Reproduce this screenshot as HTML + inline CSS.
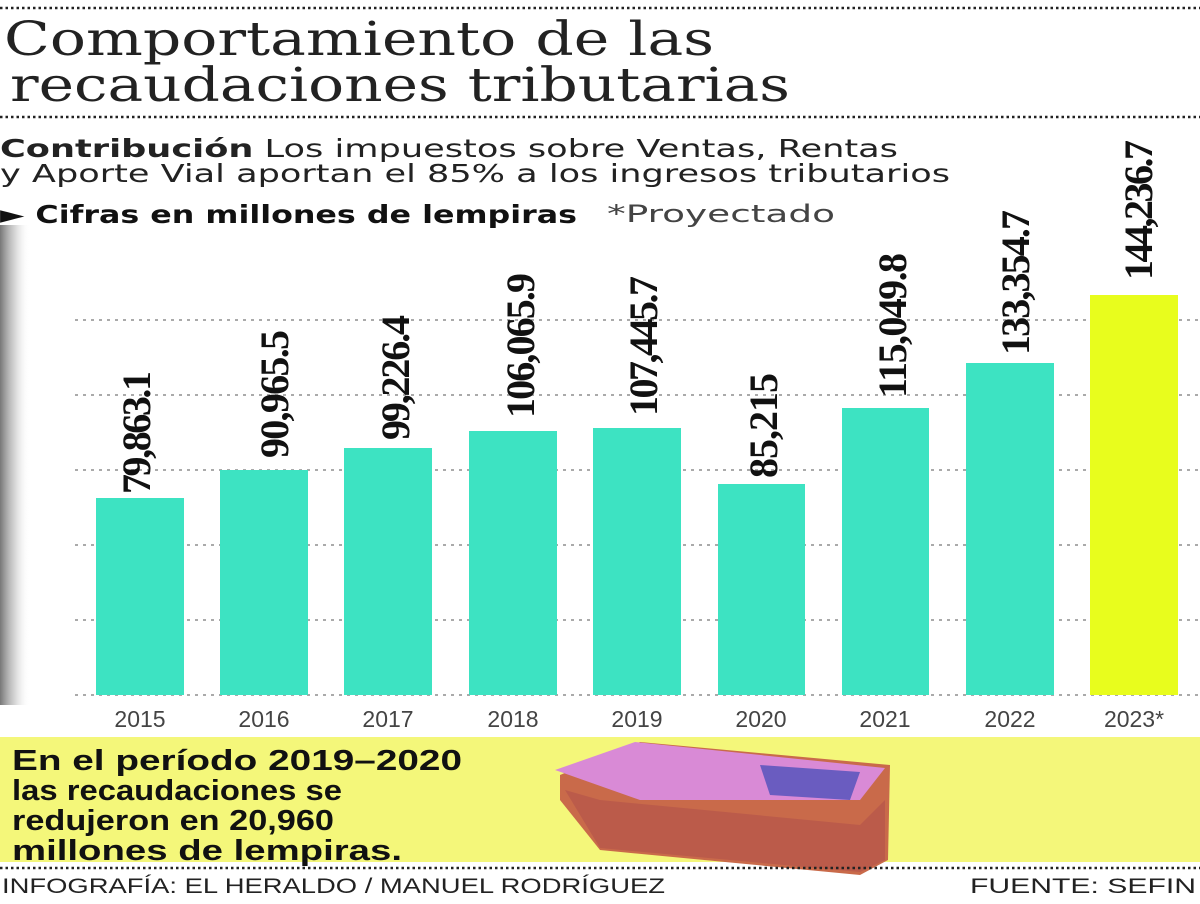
<!DOCTYPE html>
<html><head><meta charset="utf-8"><style>
body{margin:0;width:1200px;height:900px;overflow:hidden;background:#fff;font-family:"DejaVu Sans","Liberation Sans",sans-serif;}
</style></head><body>
<svg width="1200" height="900" viewBox="0 0 1200 900" xmlns="http://www.w3.org/2000/svg">
<defs>
<linearGradient id="sh" x1="0" x2="1" y1="0" y2="0">
<stop offset="0" stop-color="#777"/><stop offset="0.5" stop-color="#bbb" stop-opacity="0.6"/><stop offset="1" stop-color="#fff" stop-opacity="0"/>
</linearGradient>
</defs>
<rect x="0" y="225" width="30" height="480" fill="url(#sh)"/>
<line x1="0" y1="8" x2="1200" y2="8" stroke="#222" stroke-width="2.5" stroke-dasharray="2.5 3"/>
<line x1="0" y1="117" x2="1200" y2="117" stroke="#222" stroke-width="2.5" stroke-dasharray="2.5 3"/>
<text x="4" y="55" font-family="DejaVu Serif, Liberation Serif, serif" font-size="47" font-weight="200" fill="#222" textLength="710" lengthAdjust="spacingAndGlyphs">Comportamiento de las</text>
<text x="10" y="101" font-family="DejaVu Serif, Liberation Serif, serif" font-size="47" fill="#222" textLength="780" lengthAdjust="spacingAndGlyphs">recaudaciones tributarias</text>
<text x="0" y="157" font-size="25" fill="#222" textLength="898" lengthAdjust="spacingAndGlyphs"><tspan font-weight="bold">Contribución</tspan> Los impuestos sobre Ventas, Rentas</text>
<text x="0" y="182" font-size="25" fill="#222" textLength="950" lengthAdjust="spacingAndGlyphs">y Aporte Vial aportan el 85% a los ingresos tributarios</text>
<text x="0" y="223" font-size="25" font-weight="bold" fill="#111" textLength="577" lengthAdjust="spacingAndGlyphs">► Cifras en millones de lempiras</text>
<text x="607" y="222" font-size="24" fill="#444" textLength="228" lengthAdjust="spacingAndGlyphs">*Proyectado</text>
<g stroke="#aaa" stroke-width="2" stroke-dasharray="3 5">
<line x1="75" y1="320" x2="1200" y2="320"/><line x1="75" y1="395" x2="1200" y2="395"/>
<line x1="75" y1="470" x2="1200" y2="470"/><line x1="75" y1="545" x2="1200" y2="545"/>
<line x1="75" y1="620" x2="1200" y2="620"/><line x1="75" y1="695" x2="1200" y2="695"/>
</g>
<g fill="#3de3c2">
<rect x="96" y="498" width="88" height="197"/><rect x="220" y="470" width="88" height="225"/>
<rect x="344" y="448" width="88" height="247"/><rect x="469" y="431" width="88" height="264"/>
<rect x="593" y="428" width="88" height="267"/><rect x="718" y="484" width="87" height="211"/>
<rect x="842" y="408" width="87" height="287"/><rect x="966" y="363" width="88" height="332"/>
</g>
<rect x="1090" y="295" width="88" height="400" fill="#e8fd1d"/>
<g font-family="Liberation Serif, serif" font-weight="bold" font-size="40" fill="#111" lengthAdjust="spacingAndGlyphs">
<text transform="translate(150,494) rotate(-90)" textLength="123">79,863.1</text>
<text transform="translate(288,458) rotate(-90)" textLength="128">90,965.5</text>
<text transform="translate(409,440) rotate(-90)" textLength="125">99,226.4</text>
<text transform="translate(534,418) rotate(-90)" textLength="145">106,065.9</text>
<text transform="translate(657,416) rotate(-90)" textLength="140">107,445.7</text>
<text transform="translate(777,478) rotate(-90)" textLength="105">85,215</text>
<text transform="translate(906,398) rotate(-90)" textLength="145">115,049.8</text>
<text transform="translate(1029,355) rotate(-90)" textLength="145">133,354.7</text>
<text transform="translate(1152,280) rotate(-90)" textLength="140">144,236.7</text>
</g>
<g font-family="Liberation Sans Narrow, Liberation Sans, sans-serif" font-size="23" fill="#444" text-anchor="middle">
<text x="140" y="727">2015</text><text x="264" y="727">2016</text><text x="388" y="727">2017</text>
<text x="513" y="727">2018</text><text x="637" y="727">2019</text><text x="761" y="727">2020</text>
<text x="885" y="727">2021</text><text x="1010" y="727">2022</text><text x="1134" y="727">2023*</text>
</g>
<rect x="0" y="737" width="1200" height="125" fill="#f4f77a"/>
<g font-family="Liberation Sans Narrow, Liberation Sans, sans-serif" font-weight="bold" font-size="29" fill="#111">
<text x="12" y="770" textLength="450" lengthAdjust="spacingAndGlyphs">En el período 2019–2020</text>
<text x="12" y="800" textLength="330" lengthAdjust="spacingAndGlyphs">las recaudaciones se</text>
<text x="12" y="830" textLength="322" lengthAdjust="spacingAndGlyphs">redujeron en 20,960</text>
<text x="12" y="860" textLength="390" lengthAdjust="spacingAndGlyphs">millones de lempiras.</text>
</g>
<polygon points="560,775 640,742 890,765 888,860 860,875 600,850 560,800" fill="#c96a4a"/>
<polygon points="565,790 600,800 860,825 885,800 885,860 860,872 600,848" fill="#b8574a" opacity="0.8"/>
<polygon points="555,770 635,742 885,768 860,800 640,800" fill="#d98ad6"/>
<polygon points="760,765 860,772 850,800 770,795" fill="#6a5cc0"/>
<line x1="0" y1="868" x2="1200" y2="868" stroke="#222" stroke-width="2.5" stroke-dasharray="2.5 3"/>
<g font-family="Liberation Sans Narrow, Liberation Sans, sans-serif" font-size="21" fill="#222">
<text x="2" y="893" textLength="663" lengthAdjust="spacingAndGlyphs">INFOGRAFÍA: EL HERALDO / MANUEL RODRÍGUEZ</text>
<text x="970" y="893" textLength="226" lengthAdjust="spacingAndGlyphs">FUENTE: SEFIN</text>
</g>
</svg>
</body></html>
